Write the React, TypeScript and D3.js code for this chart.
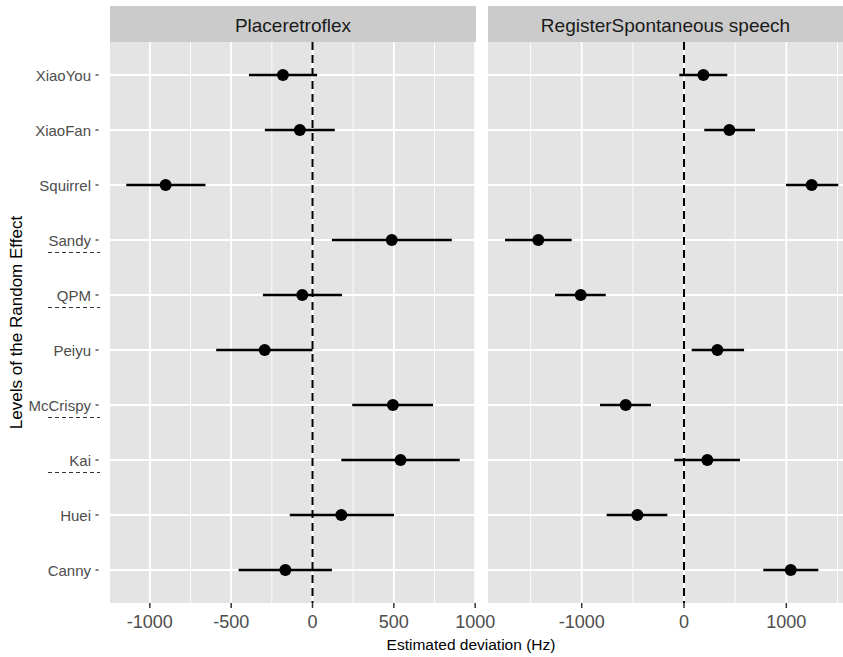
import React from 'react'
import * as d3 from 'd3'

const speakers = ['XiaoYou', 'XiaoFan', 'Squirrel', 'Sandy', 'QPM', 'Peiyu', 'McCrispy', 'Kai', 'Huei', 'Canny']
const underlined = ['Sandy', 'QPM', 'McCrispy', 'Kai']

const panelTitles = ['Placeretroflex', 'RegisterSpontaneous speech']

// estimate, lower, upper per speaker (same order as speakers)
const retroEst = [-182, -78, -903, 487, -63, -294, 494, 541, 177, -167]
const retroLo = [-391, -293, -1145, 119, -305, -592, 244, 177, -140, -454]
const retroHi = [28, 137, -658, 856, 181, 0, 741, 905, 501, 119]

const spontEst = [189, 443, 1248, -1424, -1010, 326, -570, 228, -456, 1043]
const spontLo = [-46, 198, 997, -1750, -1261, 75, -821, -95, -756, 775]
const spontHi = [423, 694, 1508, -1098, -765, 587, -323, 547, -163, 1313]

const retroMajor = [-1000, -500, 0, 500, 1000]
const retroMinor = [-1250, -750, -250, 250, 750]
const spontMajor = [-1000, 0, 1000]
const spontMinor = [-1500, -500, 500, 1500]

const FONT = '"Liberation Sans", Arial, Helvetica, sans-serif'

const top = 42
const bottom = 603
const stripTop = 6

const y = d3.scalePoint<string>().domain(speakers).range([top, bottom]).padding(0.6)

const panels = [
  {
    title: panelTitles[0],
    x: d3.scaleLinear().domain([-1245, 1005]).range([110, 476]),
    est: retroEst, lo: retroLo, hi: retroHi,
    major: retroMajor, minor: retroMinor,
  },
  {
    title: panelTitles[1],
    x: d3.scaleLinear().domain([-1916, 1554]).range([488, 843]),
    est: spontEst, lo: spontLo, hi: spontHi,
    major: spontMajor, minor: spontMinor,
  },
]

const Panel = ({ p }: { p: any }) => {
  const [x0, x1] = p.x.range()
  return (
    <g>
      <rect x={x0} y={stripTop} width={x1 - x0} height={top - stripTop} fill="#cbcbcb" />
      <text x={(x0 + x1) / 2} y={32} textAnchor="middle" fontSize={19} fill="#1a1a1a" fontFamily={FONT}>
        {p.title}
      </text>
      <rect x={x0} y={top} width={x1 - x0} height={bottom - top} fill="#e4e4e4" />
      {p.minor.map((v: number) => (
        <line key={'mi' + v} x1={p.x(v)} x2={p.x(v)} y1={top} y2={bottom} stroke="#fff" strokeWidth={0.9} />
      ))}
      {p.major.map((v: number) => (
        <line key={'ma' + v} x1={p.x(v)} x2={p.x(v)} y1={top} y2={bottom} stroke="#fff" strokeWidth={1.9} />
      ))}
      {speakers.map((s) => (
        <line key={'h' + s} x1={x0} x2={x1} y1={y(s)} y2={y(s)} stroke="#fff" strokeWidth={1.9} />
      ))}
      <line x1={p.x(0)} x2={p.x(0)} y1={top} y2={bottom} stroke="#000" strokeWidth={2} strokeDasharray="8,5" />
      {speakers.map((s, i) => (
        <g key={'e' + s}>
          <line x1={p.x(p.lo[i])} x2={p.x(p.hi[i])} y1={y(s)} y2={y(s)} stroke="#000" strokeWidth={2.6} />
          <circle cx={p.x(p.est[i])} cy={y(s)} r={6} fill="#000" />
        </g>
      ))}
      {p.major.map((v: number) => (
        <g key={'t' + v}>
          <line x1={p.x(v)} x2={p.x(v)} y1={bottom} y2={bottom + 5} stroke="#333" strokeWidth={1.5} />
          <text x={p.x(v)} y={628} textAnchor="middle" fontSize={18} fill="#4d4d4d" fontFamily={FONT}>
            {v}
          </text>
        </g>
      ))}
    </g>
  )
}

export default function App() {
  return (
    <svg width={843} height={657} style={{ display: 'block', position: 'absolute', left: 0, top: 0 }}>
      <rect width={843} height={657} fill="#fff" />
      {panels.map((p) => (
        <Panel key={p.title} p={p} />
      ))}
      {speakers.map((s) => (
        <g key={'yl' + s}>
          <text x={91} y={(y(s) as number) + 6} textAnchor="end" fontSize={15} fill="#4d4d4d" fontFamily={FONT}>
            {s}
          </text>
          <line x1={95.5} x2={98.5} y1={y(s)} y2={y(s)} stroke="#555" strokeWidth={1.5} />
          {underlined.includes(s) && (
            <line x1={48} x2={100} y1={(y(s) as number) + 12.5} y2={(y(s) as number) + 12.5} stroke="#333" strokeWidth={1} strokeDasharray="4,3" />
          )}
        </g>
      ))}
      <text transform={`translate(22,${(top + bottom) / 2}) rotate(-90)`} textAnchor="middle" fontSize={17} fill="#000" fontFamily={FONT}>
        Levels of the Random Effect
      </text>
      <text x={471} y={650} textAnchor="middle" fontSize={15.5} fill="#000" fontFamily={FONT}>
        Estimated deviation (Hz)
      </text>
    </svg>
  )
}
